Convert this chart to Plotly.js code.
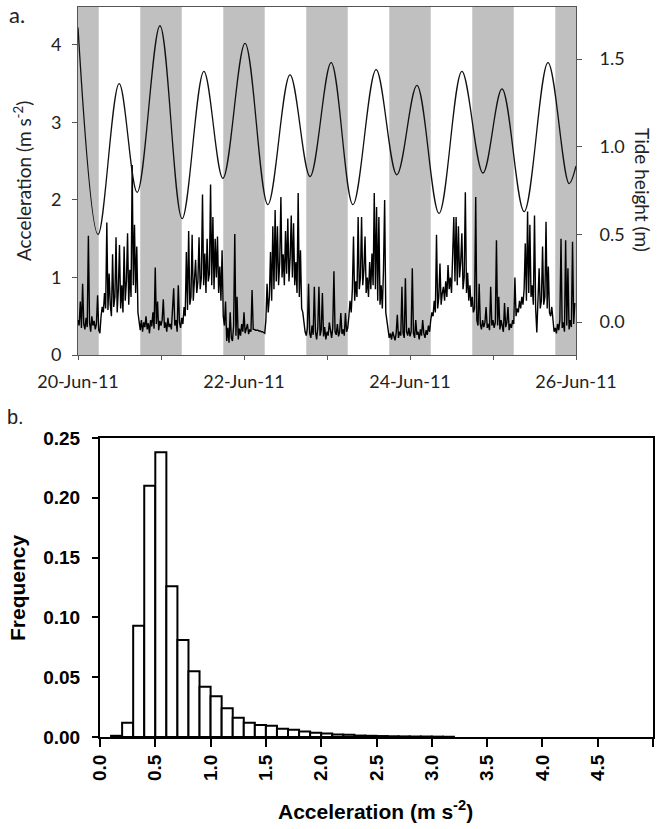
<!DOCTYPE html>
<html><head><meta charset="utf-8">
<script src="https://cdn.plot.ly/plotly-3.0.1.min.js"></script>
<style>html,body{margin:0;padding:0;background:#fff}#chart{width:662px;height:829px}</style>
</head><body><div id="chart"></div>
<script>
// ---------- Panel a: acceleration time series (20-minute samples) ----------
const startDate = Date.UTC(2011, 5, 20);
const sampleMinutes = 20;
const accelDay1 = [
 0.45,0.38,0.69,0.35,0.92,0.40,0.33,0.48,0.36,1.54,0.42,0.30,
 0.50,0.38,0.44,0.33,0.40,0.77,0.32,0.28,0.50,0.62,0.55,0.80,
 0.60,1.71,0.58,1.05,0.65,0.50,1.30,0.62,0.75,1.52,0.55,0.85,
 1.42,0.60,0.90,0.55,1.40,0.70,0.95,1.57,0.65,1.10,0.75,2.45,
 0.90,1.68,0.80,1.40,0.55,0.38,0.32,0.45,0.30,0.42,0.36,0.50,
 0.33,0.41,0.28,0.45,0.37,0.55,0.34,1.13,0.40,0.69,0.32,0.44];
const accelDay2 = [
 0.38,0.45,0.72,0.35,0.42,0.30,0.48,0.36,0.40,0.33,0.55,0.86,
 0.38,0.45,0.30,0.90,0.42,0.35,0.48,0.40,0.62,0.50,1.33,0.58,
 1.60,0.65,0.75,1.55,0.70,0.90,1.23,0.80,0.95,1.52,0.85,1.00,
 2.07,0.90,1.31,0.80,1.50,0.95,1.05,2.20,0.90,1.78,0.85,1.50,
 1.00,1.53,0.80,1.14,0.70,1.35,0.50,0.38,0.69,0.18,0.35,0.16,
 0.55,0.22,0.18,0.38,1.56,0.25,0.75,0.20,0.34,0.25,0.40,0.30];
const accelDay3 = [
 0.55,0.28,0.35,0.40,0.27,0.33,0.30,0.84,0.33,0.33,0.32,0.32,
 0.32,0.31,0.31,0.30,0.30,0.29,0.28,0.45,0.92,0.55,0.75,1.33,
 0.70,1.66,0.85,1.87,0.95,1.66,0.90,1.20,2.04,1.00,1.30,0.90,
 1.60,1.05,1.76,0.95,1.25,1.80,1.00,1.70,0.90,1.20,0.80,2.09,
 0.75,1.35,0.60,0.55,0.40,0.30,0.25,0.35,0.92,0.28,0.22,0.38,
 0.26,0.88,0.30,0.20,0.35,0.88,0.25,0.32,0.80,0.24,0.36,0.20];
const accelDay4 = [
 0.30,0.25,0.42,0.28,0.22,0.35,1.08,0.30,0.26,0.40,0.24,0.30,
 0.54,0.27,0.33,0.25,0.54,0.30,0.35,0.50,0.70,0.55,0.85,1.53,
 0.70,0.95,0.75,1.78,0.85,1.00,1.78,0.90,1.10,1.53,0.80,1.00,
 0.75,1.20,0.85,1.31,0.90,2.09,0.85,1.91,0.70,1.78,0.65,0.90,
 0.60,1.10,2.00,0.55,0.45,0.30,0.22,0.28,0.20,0.30,0.24,0.19,
 0.28,0.52,0.22,0.30,0.25,0.88,0.28,0.22,0.99,0.30,0.25,0.35];
const accelDay5 = [
 0.24,0.30,1.12,0.28,0.22,0.45,0.26,0.30,0.20,0.33,0.25,0.45,
 0.28,0.22,0.32,0.26,0.38,0.30,0.45,0.55,0.50,0.70,0.55,1.55,
 0.60,0.75,1.18,0.65,0.80,0.88,0.70,0.95,0.75,1.16,0.85,1.00,
 0.80,1.30,1.78,0.95,1.78,0.90,1.66,1.00,1.20,1.57,0.85,1.00,
 2.10,0.80,1.06,0.70,0.90,0.62,0.75,0.55,0.60,2.04,0.45,0.38,
 0.92,0.40,0.33,0.45,0.36,0.42,0.62,0.35,0.40,0.32,0.88,0.38];
const accelDay6 = [
 0.45,0.35,0.42,1.48,0.38,0.75,0.33,0.45,0.38,0.30,0.67,0.36,
 0.42,0.62,0.32,0.40,0.35,0.45,0.40,1.00,0.50,0.60,0.55,0.70,
 0.60,0.75,0.65,0.85,1.44,0.70,1.85,0.80,1.68,0.75,0.90,0.65,
 1.80,0.60,0.29,0.65,1.12,0.60,0.70,1.40,0.65,0.75,1.72,0.60,
 1.14,0.55,0.50,0.62,0.40,0.30,0.35,0.28,0.40,0.32,0.45,1.50,
 0.35,0.42,0.30,1.48,0.38,1.12,0.33,0.45,0.36,1.46,0.40,0.67];

// Tide height (m): turning points, hours after 20-Jun-11 00:00
const tideHours   = [0, 5.8, 11.9, 17.1, 23.7, 30.1, 36.4, 41.9, 48.3, 54.9, 61.3, 67.1, 73.2, 79.5, 86.2, 92.2, 98.0, 104.4, 111.0, 117.1, 122.6, 129.0, 135.9, 142.0, 144.0];
const tideHeights = [1.68, 0.50, 1.36, 0.74, 1.69, 0.59, 1.43, 0.82, 1.59, 0.67, 1.41, 0.83, 1.48, 0.67, 1.44, 0.84, 1.35, 0.62, 1.43, 0.85, 1.33, 0.63, 1.48, 0.79, 0.89];

// Night (shaded) periods, hours after start
const nightStartHours = [0, 18, 42, 66, 90, 114, 138];
const nightEndHours   = [6, 30, 54, 78, 102, 126, 144];

const labelTickHours = [0, 48, 96, 144];
const labelTickText  = ['20-Jun-11', '22-Jun-11', '24-Jun-11', '26-Jun-11'];
const dayTickHours = [24, 72, 120];
const accelTicks = [0, 1, 2, 3, 4];
const tideTicks = [0, 0.5, 1.0, 1.5];
const tideTickText = ['0.0', '0.5', '1.0', '1.5'];

// ---------- Panel b: histogram ----------
const binLeft = [0.1,0.2,0.3,0.4,0.5,0.6,0.7,0.8,0.9,1.0,1.1,1.2,1.3,1.4,1.5,1.6,1.7,1.8,1.9,2.0,2.1,2.2,2.3,2.4,2.5,2.6,2.7,2.8,2.9,3.0,3.1];
const binFreq = [0.001,0.012,0.093,0.210,0.238,0.126,0.081,0.055,0.042,0.034,0.024,0.016,0.012,0.010,0.0095,0.007,0.006,0.0045,0.0035,0.003,0.002,0.0018,0.0012,0.001,0.0008,0.0006,0.0005,0.0004,0.0004,0.0003,0.0002];
const binWidth = 0.1;
const histXTicks = [0,0.5,1,1.5,2,2.5,3,3.5,4,4.5];
const histXTickText = ['0.0','0.5','1.0','1.5','2.0','2.5','3.0','3.5','4.0','4.5'];
const histXEndTick = [5];
const histYTicks = [0,0.05,0.10,0.15,0.20,0.25];
const histYTickText = ['0.00','0.05','0.10','0.15','0.20','0.25'];

// ---------- build ----------
const HOUR = 3600000;
const hToMs = h => startDate + h * HOUR;
const accel = [].concat(accelDay1, accelDay2, accelDay3, accelDay4, accelDay5, accelDay6);
const accelTimes = accel.map((_, i) => startDate + i * sampleMinutes * 60000);
const tideTimes = tideHours.map(hToMs);

const W = 662, H = 829;
const px = v => v / W;
const py = v => 1 - v / H;

const topFont = {family: 'Lato, "Open Sans", sans-serif', size: 18, color: '#222'};
const topTitleFont = {family: 'Lato, "Open Sans", sans-serif', size: 19, color: '#222'};
const botFont = {family: '"Liberation Sans", Arial, sans-serif', size: 19, color: '#000', weight: 700};
const botTitleFont = {family: '"Liberation Sans", Arial, sans-serif', size: 21, color: '#000', weight: 700};

const traces = [
  {type: 'bar', x: binLeft.map(b => b + binWidth / 2), y: binFreq, width: binWidth,
   xaxis: 'x2', yaxis: 'y3', marker: {color: '#fff', line: {color: '#000', width: 2}}, hoverinfo: 'skip'},
  {type: 'scatter', mode: 'lines', x: accelTimes, y: accel, xaxis: 'x', yaxis: 'y',
   line: {color: '#000', width: 1.4}},
  {type: 'scatter', mode: 'lines', x: tideTimes, y: tideHeights, xaxis: 'x', yaxis: 'y2',
   line: {color: '#111', width: 1.3, shape: 'spline', smoothing: 1}}
];

const shapes = nightStartHours.map((s, i) => ({
  type: 'rect', xref: 'x', yref: 'y domain', x0: hToMs(s), x1: hToMs(nightEndHours[i]), y0: 0, y1: 1,
  fillcolor: '#c0c0c0', line: {width: 0}, layer: 'below'
}));

const layout = {
  width: W, height: H, margin: {l: 0, r: 0, t: 0, b: 0},
  paper_bgcolor: '#fff', plot_bgcolor: 'rgba(0,0,0,0)', showlegend: false, bargap: 0,
  xaxis: {domain: [px(78), px(576)], anchor: 'y', type: 'date',
    range: [hToMs(0), hToMs(144)], tickmode: 'array', tickvals: labelTickHours.map(hToMs), ticktext: labelTickText,
    ticks: 'outside', ticklen: 4, tickcolor: '#555', showline: true, linecolor: '#555', linewidth: 1,
    minor: {tickmode: 'array', tickvals: dayTickHours.map(hToMs), ticks: 'outside', ticklen: 4, tickcolor: '#555', showgrid: false},
    mirror: true, showgrid: false, zeroline: false, tickfont: topFont, ticklabelstandoff: 6},
  yaxis: {domain: [py(355), py(7)], anchor: 'x', range: [0, 4.49], tickmode: 'array', tickvals: accelTicks,
    ticks: 'outside', ticklen: 5, tickcolor: '#555', showline: true, linecolor: '#555', linewidth: 1,
    showgrid: false, zeroline: false, tickfont: topFont, ticklabelstandoff: 7},
  yaxis2: {overlaying: 'y', side: 'right', anchor: 'x', range: [-0.188, 1.797], tickmode: 'array',
    tickvals: tideTicks, ticktext: tideTickText, ticks: 'outside', ticklen: 5, tickcolor: '#555',
    showline: true, linecolor: '#555', linewidth: 1, showgrid: false, zeroline: false, tickfont: topFont,
    ticklabelstandoff: 14},
  xaxis2: {domain: [px(100), px(653)], anchor: 'y3', range: [0, 5], tickmode: 'array', tickvals: histXTicks,
    ticktext: histXTickText, tickangle: -90, ticks: 'outside', ticklen: 8, tickwidth: 2, tickcolor: '#000',
    minor: {tickmode: 'array', tickvals: histXEndTick, ticks: 'outside', ticklen: 8, tickwidth: 2, tickcolor: '#000', showgrid: false},
    showline: true, linecolor: '#000', linewidth: 2, mirror: true, showgrid: false, zeroline: false,
    tickfont: botFont, ticklabelstandoff: 0},
  yaxis3: {domain: [py(737), py(438)], anchor: 'x2', range: [0, 0.25], tickmode: 'array', tickvals: histYTicks,
    ticktext: histYTickText, ticks: 'outside', ticklen: 6, tickwidth: 2, tickcolor: '#000',
    showline: true, linecolor: '#000', linewidth: 2, mirror: true, showgrid: false, zeroline: false,
    tickfont: botFont, ticklabelstandoff: 8},
  shapes: shapes,
  annotations: [
    {text: 'a.', x: px(17), y: py(14), xref: 'paper', yref: 'paper', showarrow: false,
     xanchor: 'center', yanchor: 'middle', font: {family: 'Lato, sans-serif', size: 22, color: '#222'}},
    {text: 'b.', x: px(15), y: py(417), xref: 'paper', yref: 'paper', showarrow: false,
     xanchor: 'center', yanchor: 'middle', font: {family: '"Liberation Sans", Arial, sans-serif', size: 20, color: '#222'}},
    {text: 'Acceleration (m s<sup>-2</sup>)', x: px(22), y: py(181), xref: 'paper', yref: 'paper', showarrow: false,
     textangle: -90, xanchor: 'center', yanchor: 'middle', font: topTitleFont},
    {text: 'Tide height (m)', x: px(642), y: py(190), xref: 'paper', yref: 'paper', showarrow: false,
     textangle: 90, xanchor: 'center', yanchor: 'middle', font: topTitleFont},
    {text: 'Frequency', x: px(17), y: py(588), xref: 'paper', yref: 'paper', showarrow: false,
     textangle: -90, xanchor: 'center', yanchor: 'middle', font: botTitleFont},
    {text: 'Acceleration (m s<sup>-2</sup>)', x: px(375), y: py(810), xref: 'paper', yref: 'paper', showarrow: false,
     xanchor: 'center', yanchor: 'middle', font: botTitleFont}
  ]
};

Plotly.newPlot('chart', traces, layout, {staticPlot: true, displayModeBar: false});
</script>
</body></html>
